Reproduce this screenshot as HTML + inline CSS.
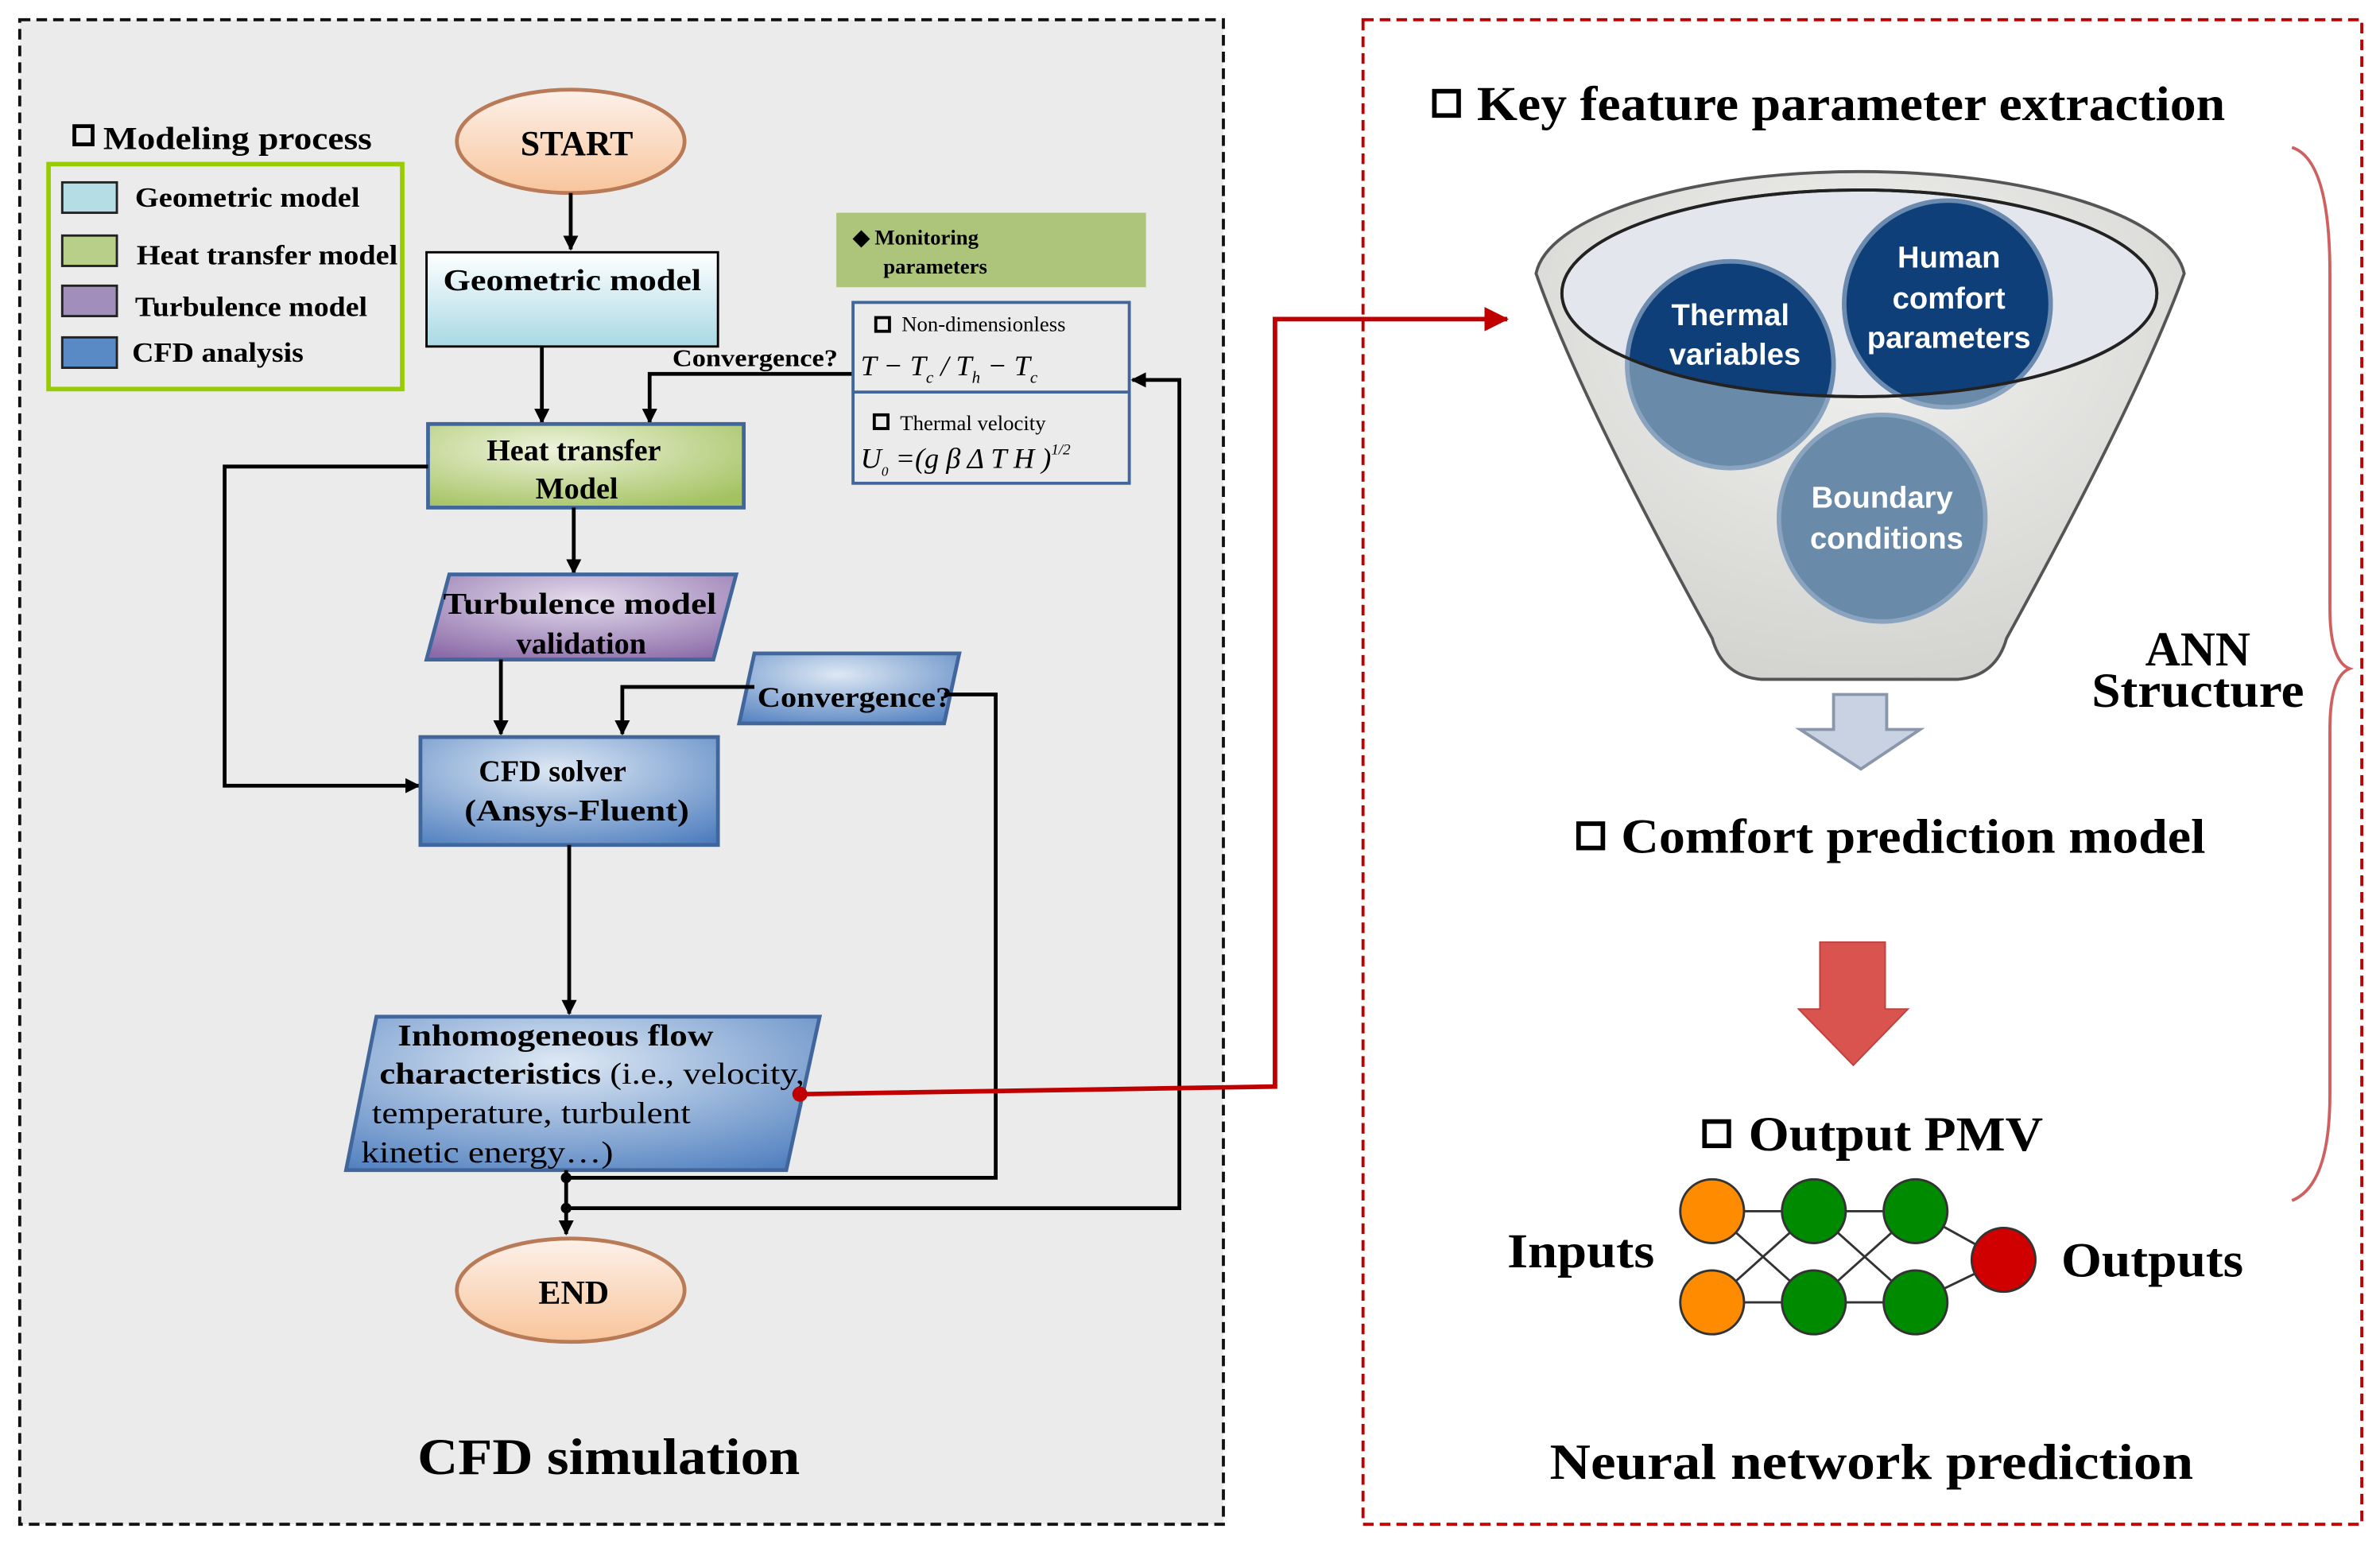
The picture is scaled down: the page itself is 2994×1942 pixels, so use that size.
<!DOCTYPE html>
<html><head><meta charset="utf-8"><style>
html,body{margin:0;padding:0;background:#fff;}
svg{display:block;}
text{font-family:"Liberation Serif",serif;font-weight:bold;fill:#000;}
.s{font-family:"Liberation Sans",sans-serif;fill:#fff;font-weight:bold;}
</style></head><body>
<svg width="2994" height="1942" viewBox="0 0 1568 1016" preserveAspectRatio="none" xmlns="http://www.w3.org/2000/svg">
<defs>
<linearGradient id="og" x1="0" y1="0" x2="0" y2="1"><stop offset="0" stop-color="#fdf1ea"/><stop offset="1" stop-color="#f8c59b"/></linearGradient>
<linearGradient id="bl" x1="0" y1="0" x2="0" y2="1"><stop offset="0" stop-color="#ffffff"/><stop offset="1" stop-color="#a8d9e4"/></linearGradient>
<radialGradient id="gr" cx="0.4" cy="0.3" r="0.8"><stop offset="0" stop-color="#eef3dc"/><stop offset="1" stop-color="#a3c260"/></radialGradient>
<radialGradient id="pu" cx="0.5" cy="0.3" r="0.8"><stop offset="0" stop-color="#e4dcec"/><stop offset="1" stop-color="#8a6aa8"/></radialGradient>
<radialGradient id="bu" cx="0.45" cy="0.3" r="0.85"><stop offset="0" stop-color="#dde8f4"/><stop offset="1" stop-color="#4d7dbe"/></radialGradient>
<radialGradient id="fun" cx="0.5" cy="0.3" r="0.8"><stop offset="0" stop-color="#f2f2f0"/><stop offset="1" stop-color="#cfd0cc"/></radialGradient>
<marker id="ar" markerWidth="10" markerHeight="10" refX="9" refY="5" orient="auto" markerUnits="userSpaceOnUse"><path d="M0,0 L10,5 L0,10 z" fill="#000"/></marker>
<marker id="arr" markerWidth="16" markerHeight="16" refX="15" refY="8" orient="auto" markerUnits="userSpaceOnUse"><path d="M0,0 L16,8 L0,16 z" fill="#c00000"/></marker>
</defs>
<rect x="13" y="13" width="793" height="990" fill="#ebebeb" stroke="#111" stroke-width="2" stroke-dasharray="7,4"/>
<rect x="898" y="13" width="658" height="990" fill="#fff" stroke="#c00000" stroke-width="2" stroke-dasharray="7,4"/>

<rect x="49" y="83" width="12" height="12" fill="none" stroke="#000" stroke-width="2.5"/>
<text x="68" y="98" font-size="21" textLength="177" lengthAdjust="spacingAndGlyphs">Modeling process</text>
<rect x="32" y="108" width="233" height="148" fill="none" stroke="#99cc00" stroke-width="3"/>
<rect x="41" y="120" width="36" height="20" fill="#b4dde6" stroke="#222" stroke-width="1.5"/>
<rect x="41" y="155" width="36" height="20" fill="#b8cf8a" stroke="#222" stroke-width="1.5"/>
<rect x="41" y="188" width="36" height="20" fill="#a18ebb" stroke="#222" stroke-width="1.5"/>
<rect x="41" y="222" width="36" height="20" fill="#5a8ac6" stroke="#222" stroke-width="1.5"/>
<text x="89" y="136" font-size="18" textLength="148" lengthAdjust="spacingAndGlyphs">Geometric model</text>
<text x="90" y="174" font-size="18" textLength="172" lengthAdjust="spacingAndGlyphs">Heat transfer model</text>
<text x="89" y="208" font-size="18" textLength="153" lengthAdjust="spacingAndGlyphs">Turbulence model</text>
<text x="87" y="238" font-size="18" textLength="113" lengthAdjust="spacingAndGlyphs">CFD analysis</text>

<ellipse cx="376" cy="93" rx="75" ry="34" fill="url(#og)" stroke="#b97a57" stroke-width="2.5"/>
<text x="380" y="102" font-size="23" text-anchor="middle">START</text>
<line x1="376" y1="127" x2="376" y2="164" stroke="#000" stroke-width="2.5" marker-end="url(#ar)"/>
<rect x="281" y="166" width="192" height="62" fill="url(#bl)" stroke="#000" stroke-width="1.5"/>
<text x="377" y="191" font-size="20" text-anchor="middle" textLength="170" lengthAdjust="spacingAndGlyphs">Geometric model</text>
<line x1="357" y1="228" x2="357" y2="278" stroke="#000" stroke-width="2.5" marker-end="url(#ar)"/>
<polyline points="562,246 428,246 428,278" fill="none" stroke="#000" stroke-width="2.5" marker-end="url(#ar)"/>
<text x="443" y="241" font-size="16" textLength="109" lengthAdjust="spacingAndGlyphs">Convergence?</text>

<rect x="551" y="140" width="204" height="49" fill="#adc57a"/>
<text x="562" y="161" font-size="14">◆ Monitoring</text>
<text x="582" y="180" font-size="14">parameters</text>
<rect x="562" y="199" width="182" height="119" fill="#ebebeb" stroke="#41669c" stroke-width="2"/>
<line x1="562" y1="258" x2="744" y2="258" stroke="#41669c" stroke-width="2"/>
<rect x="577" y="209" width="9" height="9" fill="none" stroke="#000" stroke-width="2"/>
<text x="594" y="218" font-size="14" style="font-weight:normal">Non-dimensionless</text>
<text x="567" y="247" font-size="19" font-style="italic" style="font-weight:normal">T − T<tspan font-size="11" dy="5">c</tspan><tspan dy="-5"> / T</tspan><tspan font-size="11" dy="5">h</tspan><tspan dy="-5"> − T</tspan><tspan font-size="11" dy="5">c</tspan></text>
<rect x="576" y="273" width="9" height="9" fill="none" stroke="#000" stroke-width="2"/>
<text x="593" y="283" font-size="14" style="font-weight:normal">Thermal velocity</text>
<text x="567" y="308" font-size="19" font-style="italic" style="font-weight:normal">U<tspan font-size="9" dy="5">0</tspan><tspan dy="-5"> =(</tspan>g β Δ T H )<tspan font-size="10" dy="-9">1/2</tspan></text>

<rect x="282" y="279" width="208" height="55" fill="url(#gr)" stroke="#41669c" stroke-width="2.5"/>
<text x="378" y="303" font-size="20" text-anchor="middle">Heat transfer</text>
<text x="380" y="328" font-size="20" text-anchor="middle">Model</text>
<line x1="378" y1="334" x2="378" y2="377" stroke="#000" stroke-width="2.5" marker-end="url(#ar)"/>
<polyline points="282,307 148,307 148,517 276,517" fill="none" stroke="#000" stroke-width="2.5" marker-end="url(#ar)"/>

<polygon points="296,378 485,378 470,434 281,434" fill="url(#pu)" stroke="#41669c" stroke-width="2.5"/>
<text x="382" y="404" font-size="20" text-anchor="middle" textLength="180" lengthAdjust="spacingAndGlyphs">Turbulence model</text>
<text x="383" y="430" font-size="20" text-anchor="middle">validation</text>
<line x1="330" y1="434" x2="330" y2="483" stroke="#000" stroke-width="2.5" marker-end="url(#ar)"/>

<polygon points="497,430 632,430 622,476 487,476" fill="url(#bu)" stroke="#41669c" stroke-width="2.5"/>
<text x="499" y="465" font-size="19" textLength="128" lengthAdjust="spacingAndGlyphs">Convergence?</text>
<polyline points="497,452 410,452 410,483" fill="none" stroke="#000" stroke-width="2.5" marker-end="url(#ar)"/>
<polyline points="622,457 656,457 656,775 373,775" fill="none" stroke="#000" stroke-width="2.5"/>

<rect x="277" y="485" width="196" height="71" fill="url(#bu)" stroke="#41669c" stroke-width="2.5"/>
<text x="364" y="514" font-size="20" text-anchor="middle">CFD solver</text>
<text x="380" y="540" font-size="20" text-anchor="middle" textLength="148" lengthAdjust="spacingAndGlyphs">(Ansys-Fluent)</text>
<line x1="375" y1="556" x2="375" y2="667" stroke="#000" stroke-width="2.5" marker-end="url(#ar)"/>

<polygon points="248,669 540,669 518,770 228,770" fill="url(#bu)" stroke="#41669c" stroke-width="2.5"/>
<text x="262" y="688" font-size="20" textLength="208" lengthAdjust="spacingAndGlyphs">Inhomogeneous flow</text>
<text x="250" y="713" font-size="20" textLength="280" lengthAdjust="spacingAndGlyphs">characteristics <tspan style="font-weight:normal">(i.e., velocity,</tspan></text>
<text x="245" y="739" font-size="20" style="font-weight:normal" textLength="210" lengthAdjust="spacingAndGlyphs">temperature, turbulent</text>
<text x="238" y="765" font-size="20" style="font-weight:normal" textLength="166" lengthAdjust="spacingAndGlyphs">kinetic energy…)</text>
<line x1="373" y1="770" x2="373" y2="812" stroke="#000" stroke-width="2.5" marker-end="url(#ar)"/>
<circle cx="373" cy="775" r="3.5" fill="#000"/>
<circle cx="373" cy="795" r="3.5" fill="#000"/>
<polyline points="373,795 777,795 777,250 746,250" fill="none" stroke="#000" stroke-width="2.5" marker-end="url(#ar)"/>

<ellipse cx="376" cy="849" rx="75" ry="34" fill="url(#og)" stroke="#b97a57" stroke-width="2.5"/>
<text x="378" y="858" font-size="22" text-anchor="middle">END</text>
<text x="275" y="970" font-size="34" textLength="252" lengthAdjust="spacingAndGlyphs">CFD simulation</text>

<polyline points="527,720 840,715 840,210 993,210" fill="none" stroke="#c00000" stroke-width="3" marker-end="url(#arr)"/>
<circle cx="527" cy="720" r="5" fill="#c00000"/>

<rect x="945" y="60" width="16" height="16" fill="none" stroke="#000" stroke-width="3"/>
<text x="973" y="79" font-size="32" textLength="493" lengthAdjust="spacingAndGlyphs">Key feature parameter extraction</text>

<path d="M1012,180 Q1040,260 1128,420 Q1135,445 1160,447 L1290,447 Q1315,445 1322,420 Q1410,260 1439,180 A214,72 0 0 0 1012,180 Z" fill="url(#fun)" stroke="#555" stroke-width="2"/>
<ellipse cx="1225" cy="193" rx="196" ry="68" fill="#e4e6ed" stroke="#222" stroke-width="2"/>
<circle cx="1140" cy="240" r="68" fill="#6a8aaa" stroke="#8aa4bf" stroke-width="3"/>
<circle cx="1283" cy="200" r="68" fill="#6a8aaa" stroke="#8aa4bf" stroke-width="3"/>
<clipPath id="ec"><ellipse cx="1225" cy="193" rx="196" ry="68"/></clipPath>
<g clip-path="url(#ec)">
<circle cx="1140" cy="240" r="68" fill="#0f3f78" stroke="#6a8ab0" stroke-width="3"/>
<circle cx="1283" cy="200" r="68" fill="#0f3f78" stroke="#6a8ab0" stroke-width="3"/>
</g>
<ellipse cx="1225" cy="193" rx="196" ry="68" fill="none" stroke="#222" stroke-width="2"/>
<circle cx="1240" cy="341" r="68" fill="#6a8aaa" stroke="#8aa4bf" stroke-width="3"/>
<text class="s" x="1140" y="214" font-size="20" text-anchor="middle">Thermal</text>
<text class="s" x="1143" y="240" font-size="20" text-anchor="middle">variables</text>
<text class="s" x="1284" y="176" font-size="20" text-anchor="middle">Human</text>
<text class="s" x="1284" y="203" font-size="20" text-anchor="middle">comfort</text>
<text class="s" x="1284" y="229" font-size="20" text-anchor="middle">parameters</text>
<text class="s" x="1240" y="334" font-size="20" text-anchor="middle">Boundary</text>
<text class="s" x="1243" y="361" font-size="20" text-anchor="middle">conditions</text>
<path d="M1208,457 L1243,457 L1243,480 L1265,480 L1226,506 L1186,480 L1208,480 Z" fill="#c8d2e2" stroke="#8a96aa" stroke-width="2"/>

<rect x="1040" y="542" width="16" height="16" fill="none" stroke="#000" stroke-width="3"/>
<text x="1068" y="561" font-size="32" textLength="385" lengthAdjust="spacingAndGlyphs">Comfort prediction model</text>
<path d="M1199,620 L1242,620 L1242,664 L1257,664 L1221,701 L1185,664 L1199,664 Z" fill="#d9534f" stroke="#c0403c" stroke-width="1"/>
<rect x="1123" y="738" width="16" height="16" fill="none" stroke="#000" stroke-width="3"/>
<text x="1152" y="757" font-size="32" textLength="194" lengthAdjust="spacingAndGlyphs">Output PMV</text>

<g stroke="#333" stroke-width="1.5">
<line x1="1128" y1="797" x2="1195" y2="797"/><line x1="1128" y1="797" x2="1195" y2="857"/>
<line x1="1128" y1="857" x2="1195" y2="797"/><line x1="1128" y1="857" x2="1195" y2="857"/>
<line x1="1195" y1="797" x2="1262" y2="797"/><line x1="1195" y1="797" x2="1262" y2="857"/>
<line x1="1195" y1="857" x2="1262" y2="797"/><line x1="1195" y1="857" x2="1262" y2="857"/>
<line x1="1262" y1="797" x2="1320" y2="829"/><line x1="1262" y1="857" x2="1320" y2="829"/>
</g>
<g stroke="#333" stroke-width="1.5">
<circle cx="1128" cy="797" r="21" fill="#ff8c00"/>
<circle cx="1128" cy="857" r="21" fill="#ff8c00"/>
<circle cx="1195" cy="797" r="21" fill="#008a00"/>
<circle cx="1195" cy="857" r="21" fill="#008a00"/>
<circle cx="1262" cy="797" r="21" fill="#008a00"/>
<circle cx="1262" cy="857" r="21" fill="#008a00"/>
<circle cx="1320" cy="829" r="21" fill="#d00000"/>
</g>
<text x="993" y="834" font-size="32" textLength="97" lengthAdjust="spacingAndGlyphs">Inputs</text>
<text x="1358" y="840" font-size="32" textLength="120" lengthAdjust="spacingAndGlyphs">Outputs</text>
<text x="1448" y="438" font-size="32" text-anchor="middle">ANN</text>
<text x="1378" y="465" font-size="32" textLength="140" lengthAdjust="spacingAndGlyphs">Structure</text>
<path d="M1510,97 Q1535,105 1535,180 L1535,400 Q1535,435 1548,440 Q1535,445 1535,480 L1535,720 Q1535,780 1510,790" fill="none" stroke="#d06060" stroke-width="2"/>
<text x="1021" y="973" font-size="33" textLength="424" lengthAdjust="spacingAndGlyphs">Neural network prediction</text>
</svg>
</body></html>
